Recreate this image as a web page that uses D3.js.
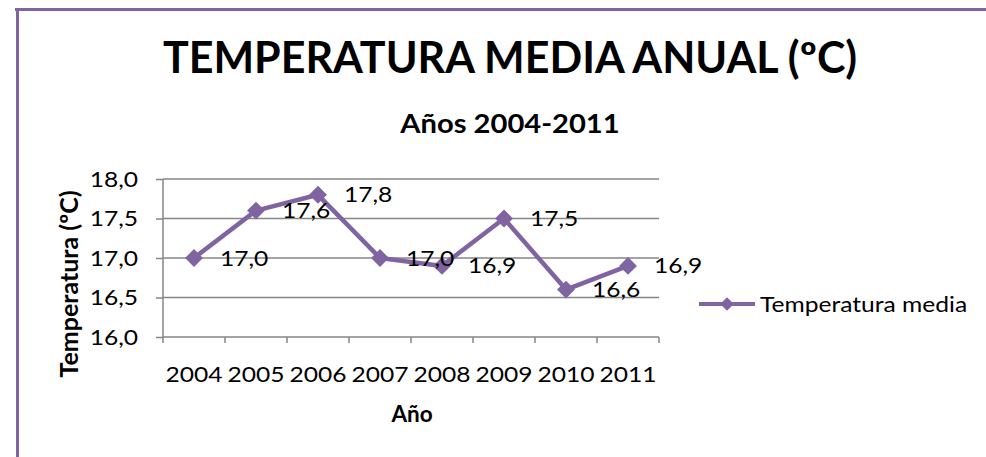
<!DOCTYPE html>
<html>
<head>
<meta charset="utf-8">
<script src="https://d3js.org/d3.v7.min.js"></script>
<style>
  body { margin: 0; background: #fff; }
  text { font-family: Lato, "Open Sans", sans-serif; fill: #000; }
</style>
</head>
<body>
<svg id="chart" width="986" height="457"></svg>
<script>
var years = ["2004", "2005", "2006", "2007", "2008", "2009", "2010", "2011"]
var temps = [17.0, 17.6, 17.8, 17.0, 16.9, 17.5, 16.6, 16.9]
var yTicks = [16.0, 16.5, 17.0, 17.5, 18.0]
var seriesName = "Temperatura media"
var title = "TEMPERATURA MEDIA ANUAL (ºC)"
var subtitle = "Años 2004-2011"
var xTitle = "Año"
var yTitle = "Temperatura (ºC)"

var purple = "#8064A2", grid = "#868686"
var stretch = 1.2 // the reference text looks widened

var svg = d3.select("#chart"),
  margin = {top: 179, left: 163},
  width = 496,
  height = 158;

var fmt = function(v){ return d3.format(".1f")(v).replace(".", ",") }

// frame
svg.append("line").attr("x1", 15).attr("x2", 986).attr("y1", 9.5).attr("y2", 9.5)
  .attr("stroke", purple).attr("stroke-width", 3)
svg.append("line").attr("x1", 17.5).attr("x2", 17.5).attr("y1", 8).attr("y2", 457)
  .attr("stroke", purple).attr("stroke-width", 3)

function label(g, x, y, txt, size, weight, sx, anchor, rot){
  var t = g.append("g").attr("transform", "translate(" + x + "," + y + ") scale(" + sx + ",1)" + (rot ? " rotate(" + rot + ")" : ""))
    .append("text")
    .attr("font-size", size)
    .attr("font-weight", weight)
    .attr("text-anchor", anchor)
    .text(txt)
  return t
}

label(svg, 510, 73, title, 43, "bold", 1.0, "middle")
label(svg, 510, 133, subtitle, 26.5, "bold", 1.1, "middle")

var x = d3.scaleBand().domain(years).range([0, width]),
  y = d3.scaleLinear().domain([16, 18]).range([height, 0]);

var g = svg.append("g").attr("transform", "translate(" + margin.left + "," + margin.top + ")")

// gridlines
g.selectAll(".grid").data(yTicks.slice(1)).enter().append("line")
  .attr("x1", 0).attr("x2", width)
  .attr("y1", d => y(d)).attr("y2", d => y(d))
  .attr("stroke", grid).attr("stroke-width", 1.5)

// y axis
var yAxis = g.append("g").call(d3.axisLeft(y).tickValues(yTicks).tickSize(7).tickFormat(""))
yAxis.select(".domain").attr("stroke", grid).attr("stroke-width", 1.5).attr("d", "M0," + height + "V0")
yAxis.selectAll(".tick line").attr("stroke", grid).attr("stroke-width", 1.5)
yTicks.forEach(function(v){
  label(g, -25, y(v) + 7.5, fmt(v), 20.5, "normal", stretch, "end")
})

// x axis with ticks between categories
var xAxis = g.append("g").attr("transform", "translate(0," + height + ")")
xAxis.append("line").attr("x1", 0).attr("x2", width).attr("stroke", grid).attr("stroke-width", 1.5)
var bounds = years.map(d => x(d)).concat([width])
xAxis.selectAll(".xt").data(bounds).enter().append("line")
  .attr("x1", d => d).attr("x2", d => d).attr("y1", 0).attr("y2", 6)
  .attr("stroke", grid).attr("stroke-width", 1.5)
years.forEach(function(d){
  label(xAxis, x(d) + x.bandwidth() / 2, 45, d, 20.5, "normal", stretch, "middle")
})

label(svg, 412, 422, xTitle, 22.5, "bold", 1.0, "middle")
label(svg, 78, 284, yTitle, 25, "bold", 1.0, "middle", -90)

// series
var cx = d => x(d.year) + x.bandwidth() / 2
var pts = years.map((d, i) => ({year: d, value: temps[i]}))
var line = d3.line().x(cx).y(d => y(d.value))
g.append("path").datum(pts).attr("d", line)
  .attr("fill", "none").attr("stroke", purple).attr("stroke-width", 4.5).attr("stroke-linejoin", "round")

var diamond = d3.symbol().type(d3.symbolSquare).size(160)
g.selectAll(".pt").data(pts).enter().append("path")
  .attr("d", diamond)
  .attr("transform", d => "translate(" + cx(d) + "," + y(d.value) + ") rotate(45)")
  .attr("fill", purple)

pts.forEach(function(d){
  label(g, cx(d) + 26, y(d.value) + 7.5, fmt(d.value), 20.5, "normal", stretch, "start")
})

// legend
var lg = svg.append("g").attr("transform", "translate(699,304)")
lg.append("line").attr("x1", 0).attr("x2", 56).attr("stroke", purple).attr("stroke-width", 4)
lg.append("path").attr("d", d3.symbol().type(d3.symbolSquare).size(90))
  .attr("transform", "translate(28,0) rotate(45)").attr("fill", purple)
label(lg, 61, 7.5, seriesName, 20.5, "normal", stretch, "start")
</script>
</body>
</html>
